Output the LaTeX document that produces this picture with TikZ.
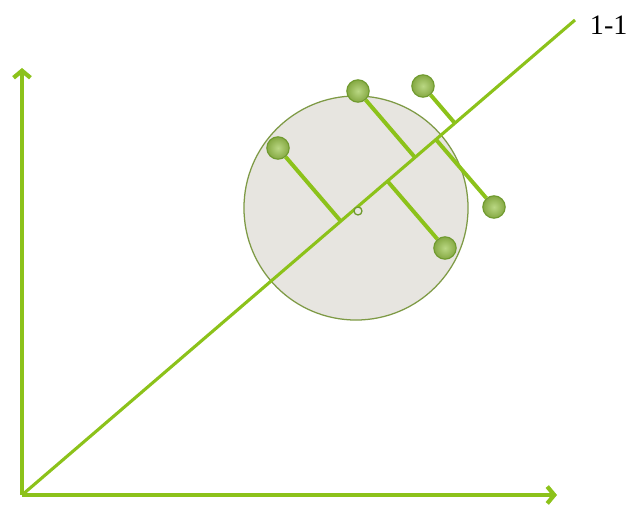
\documentclass[tikz,border=0pt]{standalone}
\usepackage{fontspec}
\setmainfont{Liberation Serif}
\usetikzlibrary{arrows.meta, calc}

\definecolor{lime}{HTML}{8CC21A}
\definecolor{dotfill}{HTML}{9CC64E}
\definecolor{dotedge}{HTML}{6F9A2E}
\definecolor{discfill}{HTML}{E7E5E0}
\definecolor{discedge}{HTML}{7E9A45}

\begin{document}
\begin{tikzpicture}[
    x=0.025cm, y=0.025cm,
    axis/.style={draw=lime, line width=3.4pt, -{Straight Barb[length=5pt, width=12pt, line width=3pt]}},
    diag/.style={draw=lime, line width=2.2pt},
    proj/.style={draw=lime, line width=2.8pt},
    dot/.style={circle, minimum size=0.56cm, inner sep=0pt, draw=dotedge, line width=0.8pt,
                inner color=dotfill!70!white, outer color=dotfill!85!black},
    disc/.style={circle, minimum size=5.6cm, inner sep=0pt, draw=discedge, line width=0.9pt, fill=discfill},
]
\useasboundingbox (0,0) rectangle (631,507);

% Axes
\coordinate (O) at (22, 12);
\coordinate (Xend) at (557, 12);
\coordinate (Yend) at (22, 439);
\coordinate (E) at (575, 487);

% Disc of points
\node[disc] (cloud) at (356, 299) {};

% 1-1 line
\draw[diag] (O) -- (E);
\node[font=\fontsize{20}{23}\selectfont, anchor=west] (lbl) at (585, 482) {1-1};

\draw[axis] (O) -- (Xend);
\draw[axis] (O) -- (Yend);

% Centre mark
\node[circle, draw=dotedge, fill=discfill, line width=0.9pt, minimum size=0.2cm, inner sep=0pt] (mid) at (358, 296) {};

% Data points
\node[dot] (p1) at (278, 359) {};
\node[dot] (p2) at (358, 416) {};
\node[dot] (p3) at (423, 421) {};
\node[dot] (p4) at (494, 300) {};
\node[dot] (p5) at (445, 259) {};

% Projections onto the 1-1 line
\foreach \p in {p1,p2,p3,p4,p5} {
    \coordinate (f\p) at ($(O)!(\p)!(E)$);
    \draw[proj] (\p) -- (f\p);
}

\end{tikzpicture}
\end{document}
